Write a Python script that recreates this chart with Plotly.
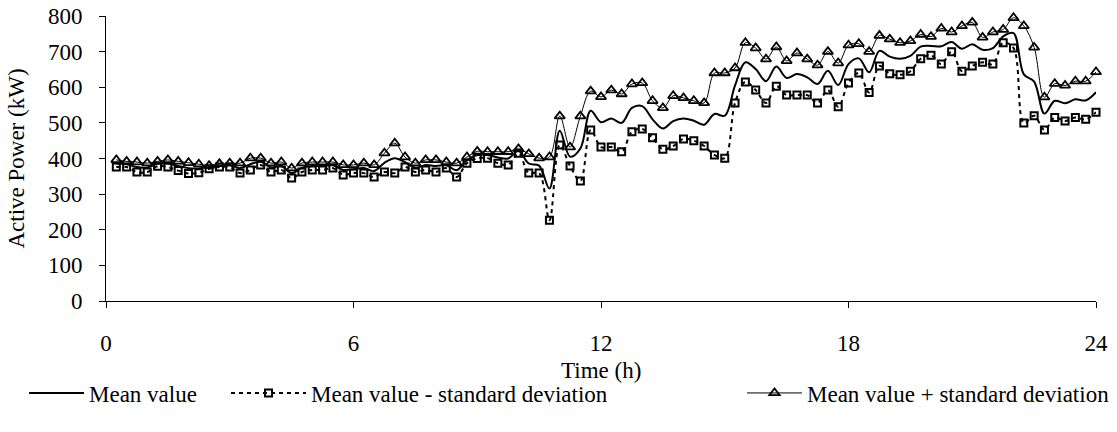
import plotly.graph_objects as go

# Time of day (h), one sample every 15 minutes
time_h = [0.25 * (i + 1) for i in range(96)]

mean_kw = [
    386, 384, 376, 375, 385, 386, 379, 373, 372, 376, 380, 381,
    373, 384, 391, 375, 379, 359, 374, 379, 379, 381, 368, 370,
    373, 365, 388, 401, 390, 374, 382, 379, 381, 367, 395, 410,
    410, 403, 400, 421, 386, 380, 316, 478, 405, 428, 534, 502,
    512, 500, 542, 547, 510, 484, 505, 512, 506, 495, 525, 520,
    605, 670, 651, 617, 658, 626, 637, 628, 609, 646, 606, 665,
    681, 642, 702, 686, 680, 688, 714, 716, 715, 727, 708, 721,
    705, 710, 743, 752, 636, 616, 526, 562, 555, 566, 563, 586,
]

lower_kw = [
    376, 376, 362, 362, 378, 376, 366, 358, 360, 371, 376, 376,
    359, 368, 382, 362, 368, 345, 362, 368, 368, 373, 354, 359,
    359, 348, 362, 359, 376, 362, 368, 362, 373, 348, 387, 400,
    401, 387, 382, 415, 359, 359, 227, 438, 379, 337, 480, 432,
    432, 419, 475, 483, 458, 426, 435, 455, 450, 435, 410, 401,
    556, 615, 592, 556, 603, 578, 578, 578, 556, 592, 545, 612,
    640, 585, 660, 638, 635, 645, 680, 690, 665, 700, 645, 660,
    670, 665, 725, 710, 500, 520, 480, 515, 505, 515, 510, 530,
]

upper_kw = [
    396, 392, 390, 387, 392, 396, 392, 388, 384, 380, 385, 387,
    387, 401, 401, 387, 390, 373, 387, 390, 390, 390, 382, 382,
    387, 382, 415, 443, 404, 387, 396, 396, 390, 387, 404, 420,
    419, 419, 419, 427, 413, 401, 404, 519, 432, 519, 589, 573,
    592, 581, 609, 612, 562, 542, 576, 570, 562, 556, 640, 640,
    654, 725, 710, 679, 713, 674, 696, 679, 662, 700, 668, 718,
    722, 700, 745, 735, 725, 730, 748, 742, 765, 755, 772, 782,
    740, 755, 762, 795, 772, 712, 572, 610, 605, 617, 617, 643,
]

x_ticks = [0, 6, 12, 18, 24]

FONT = "Liberation Serif"
SIZE = 23
W, H = 1117, 432
MARGIN = dict(l=106, r=21, t=16, b=131)
PLOT_H = H - MARGIN["t"] - MARGIN["b"]

fig = go.Figure()

fig.add_trace(go.Scatter(
    x=time_h, y=mean_kw, name="Mean value", mode="lines",
    line=dict(color="black", width=2, shape="spline", smoothing=1),
    cliponaxis=False, legend="legend",
))
fig.add_trace(go.Scatter(
    x=time_h, y=lower_kw, name="Mean value - standard deviation",
    mode="lines+markers",
    line=dict(color="black", width=2, dash="4px,4px", shape="spline", smoothing=1),
    marker=dict(symbol="square-open", size=7, color="black",
                line=dict(color="black", width=2)),
    cliponaxis=False, legend="legend2",
))
fig.add_trace(go.Scatter(
    x=time_h, y=upper_kw, name="Mean value + standard deviation",
    mode="lines+markers",
    line=dict(color="black", width=1, shape="spline", smoothing=1),
    marker=dict(symbol="triangle-up-open", size=9, color="black",
                line=dict(color="black", width=1.8)),
    cliponaxis=False, legend="legend3",
))


def legend_box(left_px, item_w):
    return dict(
        orientation="h", xref="container", yref="container",
        x=left_px / W, y=1 - 393 / H, xanchor="left", yanchor="middle",
        font=dict(family=FONT, size=SIZE, color="black"),
        itemwidth=item_w, bgcolor="rgba(0,0,0,0)",
    )


fig.update_layout(
    width=W, height=H,
    margin=dict(**MARGIN, autoexpand=False),
    paper_bgcolor="white", plot_bgcolor="white",
    font=dict(family=FONT, size=SIZE, color="black"),
    showlegend=True,
    legend=legend_box(24, 55),
    legend2=legend_box(226, 75),
    legend3=legend_box(742, 55),
)

# x-axis title placed just below the tick labels
fig.add_annotation(
    text="Time (h)", xref="paper", yref="paper", x=0.5, y=-70 / PLOT_H,
    xanchor="center", yanchor="middle", showarrow=False,
    font=dict(family=FONT, size=SIZE, color="black"),
)

fig.update_xaxes(
    range=[0, 24], tickvals=x_ticks, ticktext=[str(v) for v in x_ticks],
    showline=True, linecolor="black", linewidth=1,
    ticks="outside", ticklen=6, tickcolor="black",
    ticklabelstandoff=15, showgrid=False, zeroline=False, automargin=True,
    tickfont=dict(family=FONT, size=SIZE),
)
fig.update_yaxes(
    range=[0, 800], dtick=100,
    showline=True, linecolor="black", linewidth=1,
    ticks="outside", ticklen=6, tickcolor="black",
    ticklabelstandoff=12, showgrid=False, zeroline=False, automargin=True,
    tickfont=dict(family=FONT, size=SIZE),
    title=dict(text="Active Power (kW)", standoff=16, font=dict(family=FONT, size=SIZE)),
)

fig.write_html("out.html")
